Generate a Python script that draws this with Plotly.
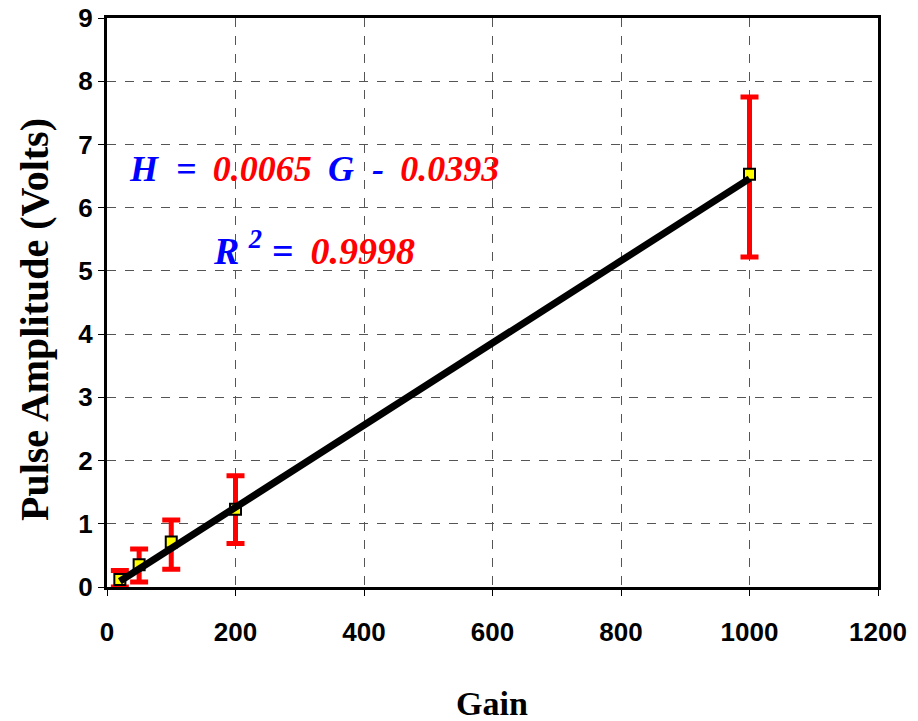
import plotly.graph_objects as go

gain = [20, 50, 100, 200, 1000]
amplitude = [0.12, 0.35, 0.71, 1.23, 6.53]
err_plus = [0.14, 0.25, 0.35, 0.53, 1.22]
err_minus = [0.12, 0.27, 0.43, 0.54, 1.31]

fit_x = [20, 1000]
fit_y = [0.09, 6.46]

x_ticks = [0, 200, 400, 600, 800, 1000, 1200]
y_ticks = [0, 1, 2, 3, 4, 5, 6, 7, 8, 9]

tick_font = dict(family="Liberation Sans Narrow, Arial Narrow, Liberation Sans, Arial", size=26, color="black")

TS = "\u2009"  # thin space
SP = "\u00a0"  # non-breaking space

fig = go.Figure()
fig.add_trace(go.Scatter(
    x=gain, y=amplitude, mode="markers",
    marker=dict(symbol="square", size=11, color="yellow", line=dict(color="black", width=2)),
    error_y=dict(type="data", symmetric=False, array=err_plus, arrayminus=err_minus,
                 color="red", thickness=5, width=9),
    cliponaxis=False,
    showlegend=False,
))
fig.add_trace(go.Scatter(
    x=fit_x, y=fit_y, mode="lines",
    line=dict(color="black", width=7), showlegend=False,
))

fig.update_layout(
    width=918, height=721,
    margin=dict(l=99, r=48, t=10, b=142),
    paper_bgcolor="white", plot_bgcolor="white",
    xaxis=dict(range=[0, 1200], tickvals=x_ticks, ticktext=[f"<b>{v}</b>" for v in x_ticks],
               showgrid=True, gridcolor="#555", griddash="dash", gridwidth=1,
               showline=True, linecolor="black", linewidth=3, mirror=True,
               ticks="outside", ticklen=6, tickcolor="black", tickfont=tick_font,
               ticklabelstandoff=14, ticklabeloverflow="allow",
               zeroline=False, automargin=False),
    yaxis=dict(range=[0, 9], tickvals=y_ticks, ticktext=[f"<b>{v}</b>" for v in y_ticks],
               showgrid=True, gridcolor="#555", griddash="dash", gridwidth=1,
               showline=True, linecolor="black", linewidth=3, mirror=True,
               ticks="outside", ticklen=6, tickcolor="black", tickfont=tick_font,
               ticklabeloverflow="allow",
               zeroline=False, automargin=False),
)

title_font = "Liberation Serif, Times New Roman"
# axis titles placed as annotations (paper coords relative to plot area)
fig.add_annotation(
    xref="paper", yref="paper", x=(492 - 107) / 771, y=(587 - 703) / 569,
    showarrow=False, xanchor="center", yanchor="middle",
    text="<b>Gain</b>", font=dict(family=title_font, size=34, color="black"),
)
fig.add_annotation(
    xref="paper", yref="paper", x=(35 - 107) / 771, y=(587 - 320) / 569,
    showarrow=False, xanchor="center", yanchor="middle", textangle=-90,
    text="<b>Pulse Amplitude (Volts)</b>", font=dict(family=title_font, size=40, color="black"),
)

ann_font = "Liberation Serif, Times New Roman"
fig.add_annotation(
    xref="paper", yref="paper", x=(314 - 107) / 771, y=(587 - 169) / 569,
    showarrow=False, xanchor="center", yanchor="middle",
    text=(f"<b><i><span style='color:blue'>H</span>{SP}{SP}<span style='color:blue'>=</span>{SP}{TS}"
          f"<span style='color:red'>0.0065</span>{SP}{TS}<span style='color:blue'>G</span>{SP}{SP}"
          f"<span style='color:blue'>-</span>{SP}{TS}<span style='color:red'>0.0393</span></i></b>"),
    font=dict(family=ann_font, size=36),
)
fig.add_annotation(
    xref="paper", yref="paper", x=(314 - 107) / 771, y=(587 - 248) / 569,
    showarrow=False, xanchor="center", yanchor="middle",
    text=(f"<b><i><span style='color:blue'>R{SP}<sup>2</sup>{SP}=</span>{SP}{TS}"
          f"<span style='color:red'>0.9998</span></i></b>"),
    font=dict(family=ann_font, size=38),
)

fig.write_html("out.html")
